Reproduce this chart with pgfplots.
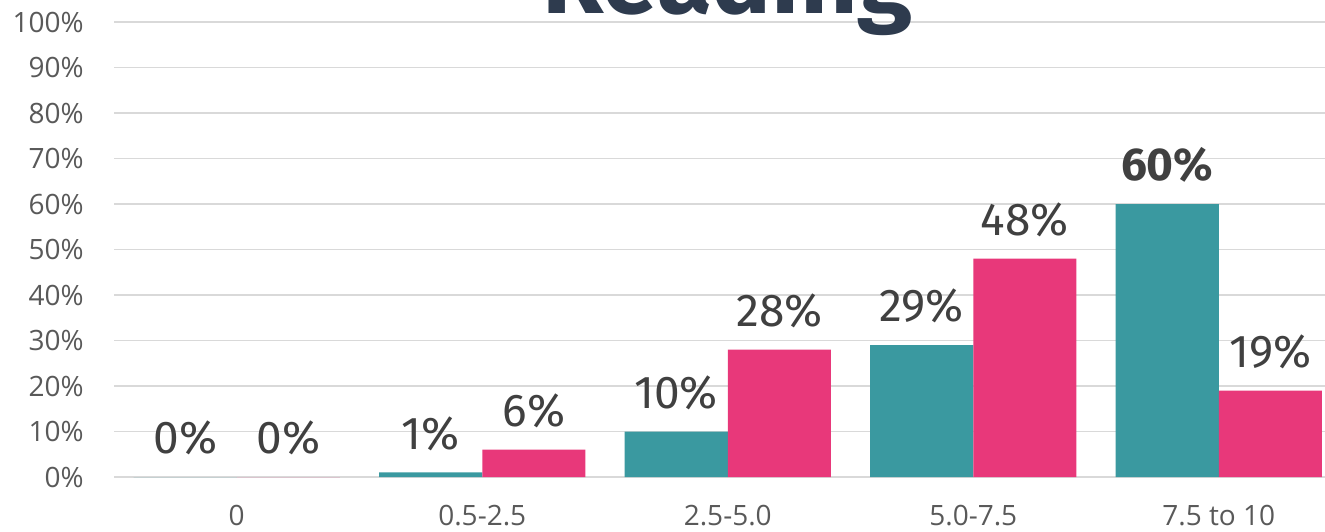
\documentclass[border=0pt]{standalone}
\usepackage{fontspec}
\setmainfont{Open Sans}
\newfontfamily\labelfont{Fira Sans}
\usepackage{pgfplots}
\pgfplotsset{compat=1.18}

\definecolor{barteal}{HTML}{3A99A0}
\definecolor{barpink}{HTML}{E8387A}
\definecolor{gridgray}{HTML}{D9D9D9}
\definecolor{tickgray}{HTML}{595959}
\definecolor{labelgray}{HTML}{404040}
\definecolor{titlenavy}{HTML}{2E3B4E}

\begin{document}
\begin{tikzpicture}
\begin{axis}[
  scale only axis,
  width=613.75pt, height=227.5pt,
  xmin=-0.5, xmax=4.5, ymin=0, ymax=100,
  axis line style={draw=none},
  major tick length=0pt,
  ymajorgrids, grid style={gridgray, line width=0.9pt},
  ytick={0,10,...,100},
  yticklabels={0\%,10\%,20\%,30\%,40\%,50\%,60\%,70\%,80\%,90\%,100\%},
  xtick={0,1,2,3,4},
  xticklabels={0,0.5-2.5,2.5-5.0,5.0-7.5,7.5 to 10},
  tick label style={font=\fontsize{14}{16}\selectfont, text=tickgray},
  xticklabel style={anchor=north, inner sep=0pt, yshift=-14pt},
  yticklabel style={anchor=east, inner sep=0pt, xshift=-15pt},
  title={Reading},
  title style={font=\labelfont\bfseries\fontsize{50}{56}\selectfont, text=titlenavy,
    at={(0.5,0.9934)}, anchor=base},
  ybar, bar width=0.42,
  point meta=explicit symbolic,
  nodes near coords={\labelfont\fontsize{23}{26}\selectfont\pgfplotspointmeta},
  every node near coord/.append style={text=labelgray, anchor=center, yshift=19.5pt},
]
\addplot[fill=barteal, draw=none, bar shift=-0.21] coordinates {
  (0,0)[0\%] (1,1)[1\%] (2,10)[10\%] (3,29)[29\%] (4,60)[{\bfseries 60\%}]
};
\addplot[fill=barpink, draw=none, bar shift=0.21] coordinates {
  (0,0)[0\%] (1,6)[6\%] (2,28)[28\%] (3,48)[48\%] (4,19)[19\%]
};
\end{axis}
\pgfresetboundingbox
\path[use as bounding box] (-57pt,-27pt) rectangle (605.5pt,238.5pt);
\end{tikzpicture}
\end{document}
